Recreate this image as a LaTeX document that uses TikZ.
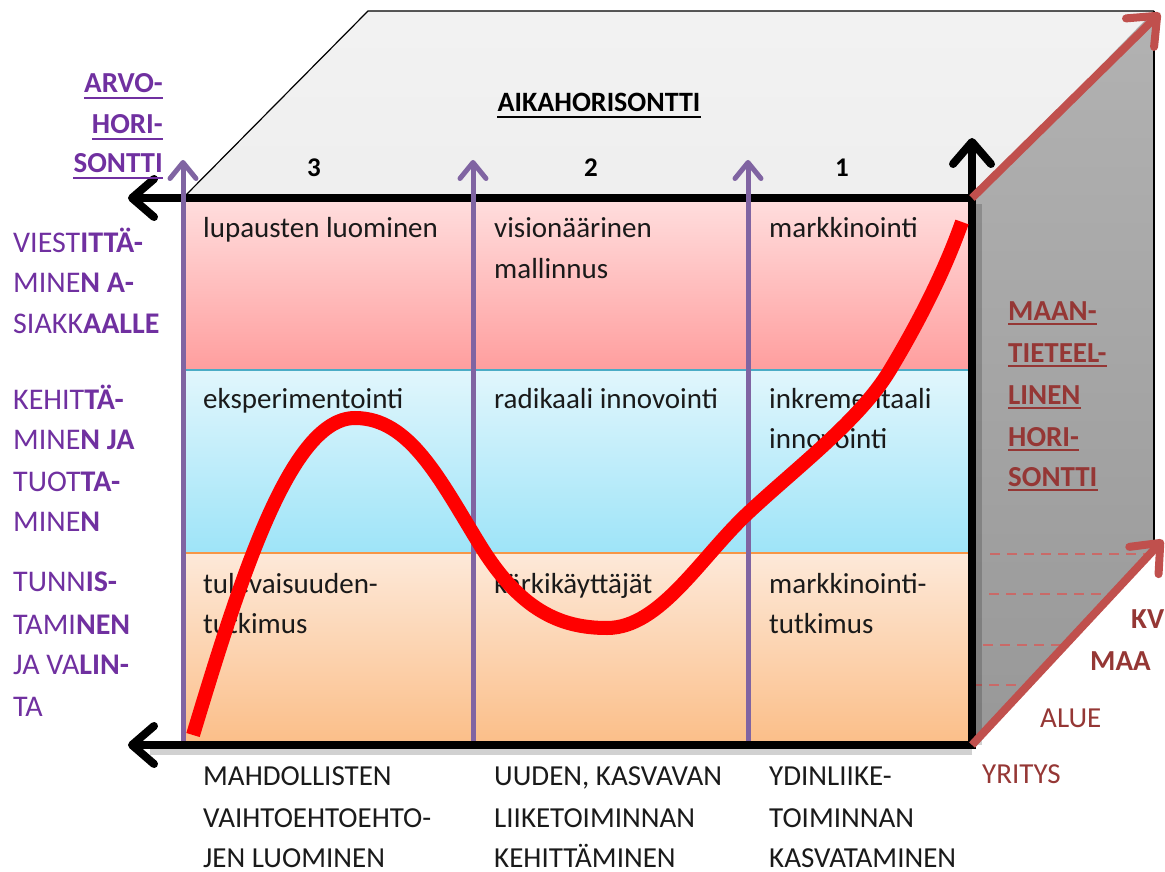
\documentclass[tikz,border=0pt]{standalone}
\usepackage{fontspec}
\setmainfont{Carlito}
\usetikzlibrary{arrows.meta}
\definecolor{vio}{HTML}{7030A0}
\definecolor{lilac}{HTML}{8064A2}
\definecolor{brick}{HTML}{C0504D}
\definecolor{dred}{HTML}{953735}
\definecolor{ink}{HTML}{1A1A1A}
\definecolor{pinktop}{RGB}{255,222,222}
\definecolor{pinkbot}{RGB}{255,158,158}
\definecolor{bluetop}{RGB}{225,246,252}
\definecolor{bluebot}{RGB}{158,228,248}
\definecolor{orgtop}{RGB}{253,233,217}
\definecolor{orgbot}{RGB}{251,190,136}
\definecolor{blueline}{RGB}{75,172,198}
\definecolor{orgline}{RGB}{247,150,70}
\definecolor{sidetop}{RGB}{178,178,178}
\definecolor{sidebot}{RGB}{152,152,152}
\newcommand\txtfont{\fontsize{29}{40}\selectfont}
\newcommand\numfont{\fontsize{27}{32}\selectfont\bfseries}
\begin{document}
\begin{tikzpicture}[x=1pt,y=-1pt,
  cell/.style={anchor=base west,inner sep=0pt,font=\txtfont,text=ink},
  vlab/.style={anchor=base west,inner sep=0pt,font=\fontsize{30}{40}\selectfont,text=vio},
  vhead/.style={anchor=base east,inner sep=0pt,font=\txtfont\bfseries,text=vio},
  rhead/.style={anchor=base west,inner sep=0pt,font=\txtfont\bfseries,text=dred},
  rlab/.style={anchor=base west,inner sep=0pt,font=\txtfont,text=dred},
  num/.style={anchor=base,inner sep=0pt,font=\numfont,text=black},
  axis/.style={line width=8pt,black,-{Straight Barb[length=22pt,width=38pt,round]}},
  colarrow/.style={line width=5pt,lilac,-{Straight Barb[length=16pt,width=26pt,round]}},
  geoarrow/.style={line width=8pt,brick,-{Straight Barb[length=24pt,width=40pt,round]}},
  level/.style={brick!85,line width=1.6pt,dash pattern=on 10pt off 7pt},
  scurve/.style={red,line width=14pt,line cap=butt},
]
\useasboundingbox (0,0) rectangle (1165,872);

% corners of the box
\coordinate (FTL) at (183,198);
\coordinate (FTR) at (972,198);
\coordinate (FBR) at (972,745);
\coordinate (FBL) at (183,745);
\coordinate (BTL) at (368,11);
\coordinate (BTR) at (1154,11);
\coordinate (BBR) at (1154,550);

% top face
\shade[top color=gray!10,bottom color=gray!13] (FTL) -- (BTL) -- (BTR) -- (FTR) -- cycle;
\draw[line width=1.2pt] (FTL) -- (BTL) -- (BTR);

% right face
\shade[top color=sidetop,bottom color=sidebot] (FTR) -- (BTR) -- (BBR) -- (FBR) -- cycle;
\draw[line width=1.2pt] (BTR) -- (BBR);

% front face: three bands
\shade[top color=pinktop,bottom color=pinkbot] (183,198) rectangle (972,370);
\shade[top color=bluetop,bottom color=bluebot] (183,370) rectangle (972,553);
\shade[top color=orgtop,bottom color=orgbot] (183,553) rectangle (972,745);
\draw[blueline,line width=1.5pt] (183,370) -- (972,370);
\draw[orgline,line width=1.5pt] (183,553) -- (972,553);

% levels on the right face
\draw[level] (990,554) -- (1152,554);
\draw[level] (989,594) -- (1112,594);
\draw[level] (983,645) -- (1065,645);
\draw[level] (972,685) -- (1027,685);

% soft shadow under the front edges
\draw[black,opacity=0.18,line width=8pt] (972,751) -- (150,751);
\draw[black,opacity=0.18,line width=8pt] (978,204) -- (978,745);

% axes of the front face
\draw[axis] (FTR) -- (128,198);
\draw[axis] (FBR) -- (128,745);
\draw[axis] (972,749) -- (972,138);

% column arrows
\draw[colarrow] (183,741) -- (183,160);
\draw[colarrow] (473,741) -- (473,160);
\draw[colarrow] (748,741) -- (748,160);

% headings
\node[anchor=base,inner sep=0pt,font=\fontsize{28}{32}\selectfont\bfseries] (aika) at (599,112) {AIKAHORISONTTI};
\draw[line width=2.2pt] ([yshift=-5pt]aika.base west) -- ([yshift=-5pt]aika.base east);
\node[num] (n3) at (314,177) {3};
\node[num] (n2) at (591,177) {2};
\node[num] (n1) at (842,177) {1};

\node[vhead] (a1) at (163,93) {ARVO-};
\node[vhead] (a2) at (163,134) {HORI-};
\node[vhead] (a3) at (163,173) {SONTTI};
\foreach \n in {a1,a2,a3}
  \draw[vio,line width=2.3pt] ([yshift=-5pt]\n.base west) -- ([yshift=-5pt]\n.base east);

% row labels
\node[vlab] (v1) at (13,252) {VIEST\textbf{ITTÄ-}};
\node[vlab] (v2) at (13,292) {MINE\textbf{N A-}};
\node[vlab] (v3) at (13,333) {SIAKK\textbf{AALLE}};
\node[vlab] (k1) at (13,409) {KEHIT\textbf{TÄ-}};
\node[vlab] (k2) at (13,449) {MINE\textbf{N JA}};
\node[vlab] (k3) at (13,491) {TUOT\textbf{TA-}};
\node[vlab] (k4) at (13,531) {MINE\textbf{N}};
\node[vlab] (t1) at (13,591) {TUNN\textbf{IS-}};
\node[vlab] (t2) at (13,634) {TAMI\textbf{NEN}};
\node[vlab] (t3) at (13,674) {JA VA\textbf{LIN-}};
\node[vlab] (t4) at (13,716) {TA};

% cell texts
\node[cell] (c11) at (203,237) {lupausten luominen};
\node[cell] (c12a) at (494,237) {visionäärinen};
\node[cell] (c12b) at (494,278) {mallinnus};
\node[cell] (c13) at (769,237) {markkinointi};
\node[cell] (c21) at (203,408) {eksperimentointi};
\node[cell] (c22) at (494,408) {radikaali innovointi};
\node[cell] (c23a) at (769,408) {inkrementaali};
\node[cell] (c23b) at (769,448) {innovointi};
\node[cell] (c31a) at (203,593) {tulevaisuuden-};
\node[cell] (c31b) at (203,633) {tutkimus};
\node[cell] (c32) at (494,593) {kärkikäyttäjät};
\node[cell] (c33a) at (769,593) {markkinointi-};
\node[cell] (c33b) at (769,633) {tutkimus};

% column labels
\node[cell] (b11) at (203,785) {MAHDOLLISTEN};
\node[cell] (b12) at (203,827) {VAIHTOEHTOEHTO-};
\node[cell] (b13) at (203,867) {JEN LUOMINEN};
\node[cell] (b21) at (494,785) {UUDEN, KASVAVAN};
\node[cell] (b22) at (494,827) {LIIKETOIMINNAN};
\node[cell] (b23) at (494,867) {KEHITTÄMINEN};
\node[cell] (b31) at (769,785) {YDINLIIKE-};
\node[cell] (b32) at (769,827) {TOIMINNAN};
\node[cell] (b33) at (769,867) {KASVATAMINEN};

% geographic horizon
\node[rhead] (m1) at (1008,320) {MAAN-};
\node[rhead] (m2) at (1008,362) {TIETEEL-};
\node[rhead] (m3) at (1008,404) {LINEN};
\node[rhead] (m4) at (1008,446) {HORI-};
\node[rhead] (m5) at (1008,486) {SONTTI};
\foreach \n in {m1,m2,m3,m4,m5}
  \draw[dred,line width=2.3pt] ([yshift=-4pt]\n.base west) -- ([yshift=-4pt]\n.base east);

\node[rhead] (g1) at (1131,628) {KV};
\node[rhead] (g2) at (1090,670) {MAA};
\node[rlab] (g3) at (1040,727) {ALUE};
\node[rlab] (g4) at (982,783) {YRITYS};

% the red S-curve
\draw[scurve] (193,735) .. controls (240,580) and (290,418) .. (355,418)
  .. controls (410,418) and (440,480) .. (480,545)
  .. controls (520,610) and (560,628) .. (607,628)
  .. controls (660,628) and (700,558) .. (748,513)
  .. controls (796,468) and (860,420) .. (890,370)
  .. controls (920,320) and (945,270) .. (962,222);

% geographic arrows
\draw[geoarrow] (FTR) -- (1160,13);
\draw[geoarrow] (FBR) -- (1163,540);
\end{tikzpicture}
\end{document}
